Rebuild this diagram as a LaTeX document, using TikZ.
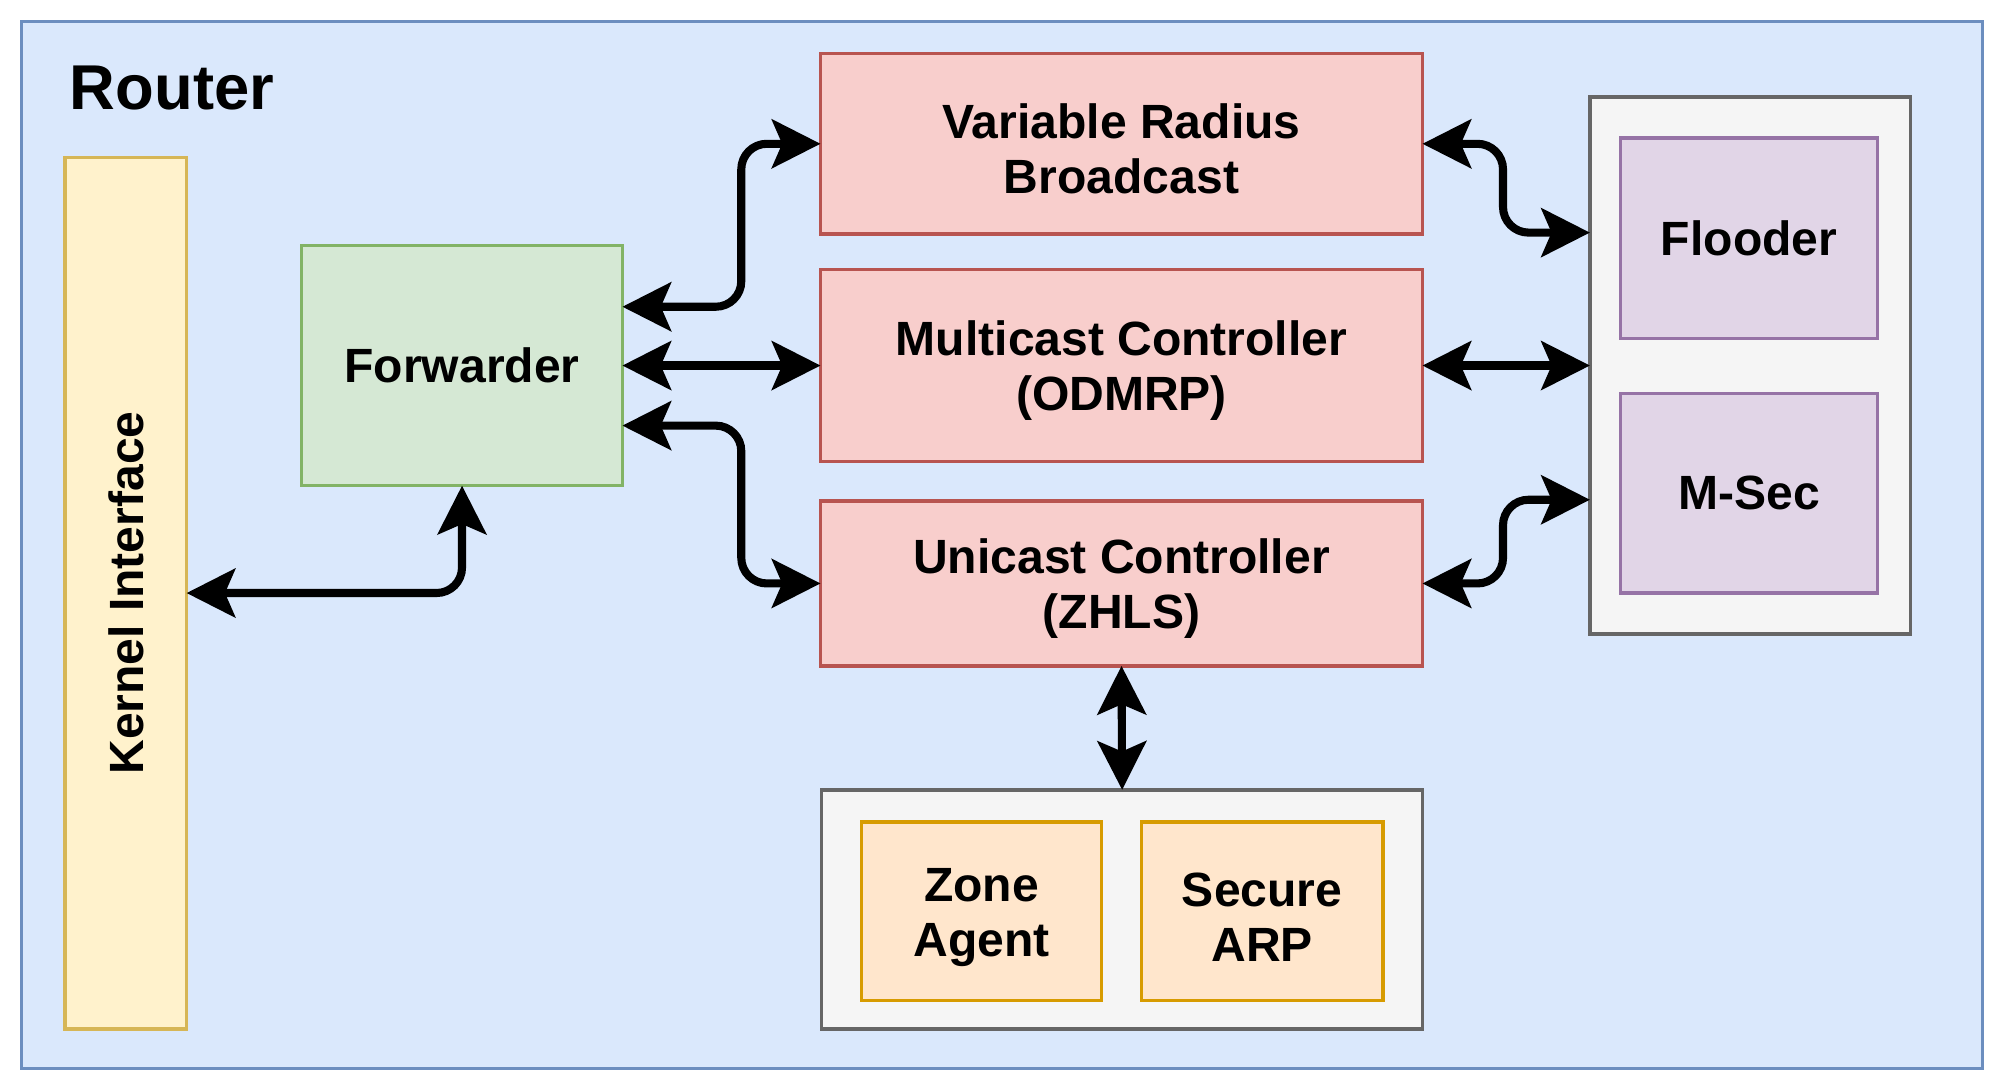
\documentclass[tikz,border=0pt]{standalone}
\usepackage{fontspec}
\setmainfont{Liberation Sans}
\usetikzlibrary{arrows.meta}

\definecolor{routerfill}{HTML}{DAE8FC}
\definecolor{routerline}{HTML}{6C8EBF}
\definecolor{kernelfill}{HTML}{FFF2CC}
\definecolor{kernelline}{HTML}{D6B656}
\definecolor{fwdfill}{HTML}{D5E8D4}
\definecolor{fwdline}{HTML}{82B366}
\definecolor{ctrlfill}{HTML}{F8CECC}
\definecolor{ctrlline}{HTML}{B85450}
\definecolor{groupfill}{HTML}{F5F5F5}
\definecolor{groupline}{HTML}{666666}
\definecolor{secfill}{HTML}{E1D5E7}
\definecolor{secline}{HTML}{9673A6}
\definecolor{zonefill}{HTML}{FFE6CC}
\definecolor{zoneline}{HTML}{D79B00}

% lowers two-line labels a little
\newcommand{\padline}{\rule{0pt}{10pt}}

\begin{document}
\begin{tikzpicture}[every node/.style={font=\bfseries\fontsize{10.7}{12.2}\selectfont, align=center},
    block/.style={draw, rectangle, line width=0.75pt, inner sep=0pt, outer sep=0pt},
    link/.style={line width=1.8pt, rounded corners=2mm,
        {Stealth[length=3.8mm, width=3.8mm, inset=0.8mm]}-{Stealth[length=3.8mm, width=3.8mm, inset=0.8mm]}}]
    \useasboundingbox (0,0) rectangle (15.68,-8.54);

    % Router frame
    \node[block, fill=routerfill, draw=routerline, minimum width=15.34cm, minimum height=8.19cm] (router) at (7.84,-4.265) {};
    \node[anchor=base west, inner sep=0pt, font=\bfseries\fontsize{14.1}{16}\selectfont] (title) at (0.54,-0.855) {Router};

    % Left side
    \node[block, fill=kernelfill, draw=kernelline, minimum width=0.95cm, minimum height=6.82cm] (kernel) at (0.985,-4.64) {};
    \node[rotate=90] (kernellabel) at (kernel.center) {Kernel Interface};
    \node[block, fill=fwdfill, draw=fwdline, minimum width=2.51cm, minimum height=1.88cm] (fwd) at (3.615,-2.86) {Forwarder};

    % Controllers
    \node[block, fill=ctrlfill, draw=ctrlline, minimum width=4.71cm, minimum height=1.41cm] (vrb) at (8.775,-1.125) {\padline Variable Radius\\Broadcast};
    \node[block, fill=ctrlfill, draw=ctrlline, minimum width=4.71cm, minimum height=1.50cm] (mcast) at (8.775,-2.86) {\padline Multicast Controller\\(ODMRP)};
    \node[block, fill=ctrlfill, draw=ctrlline, minimum width=4.71cm, minimum height=1.29cm] (ucast) at (8.775,-4.565) {\padline Unicast Controller\\(ZHLS)};

    % Security group
    \node[block, fill=groupfill, draw=groupline, minimum width=2.51cm, minimum height=4.20cm] (secgroup) at (13.695,-2.86) {};
    \node[block, fill=secfill, draw=secline, minimum width=2.01cm, minimum height=1.57cm] (flooder) at (13.685,-1.865) {Flooder};
    \node[block, fill=secfill, draw=secline, minimum width=2.01cm, minimum height=1.56cm] (msec) at (13.685,-3.86) {M-Sec};

    % Zone group
    \node[block, fill=groupfill, draw=groupline, minimum width=4.70cm, minimum height=1.87cm] (zonegroup) at (8.78,-7.115) {};
    \node[block, fill=zonefill, draw=zoneline, minimum width=1.88cm, minimum height=1.40cm] (agent) at (7.68,-7.13) {\padline Zone\\Agent};
    \node[block, fill=zonefill, draw=zoneline, minimum width=1.89cm, minimum height=1.40cm] (sarp) at (9.875,-7.13) {\padline Secure\\ARP};

    % Links
    \draw[link] (kernel.east) -| (fwd.south);
    \draw[link] ([yshift=4.6mm]fwd.east) -- ++(0.93,0) |- (vrb.west);
    \draw[link] (fwd.east) -- (mcast.west);
    \draw[link] ([yshift=-4.7mm]fwd.east) -- ++(0.93,0) |- (ucast.west);
    \draw[link] (vrb.east) -- ++(0.63,0) |- ([yshift=10.4mm]secgroup.west);
    \draw[link] (mcast.east) -- (secgroup.west);
    \draw[link] (ucast.east) -- ++(0.63,0) |- ([yshift=-10.5mm]secgroup.west);
    \draw[link] (ucast.south) -- (zonegroup.north);
\end{tikzpicture}
\end{document}
